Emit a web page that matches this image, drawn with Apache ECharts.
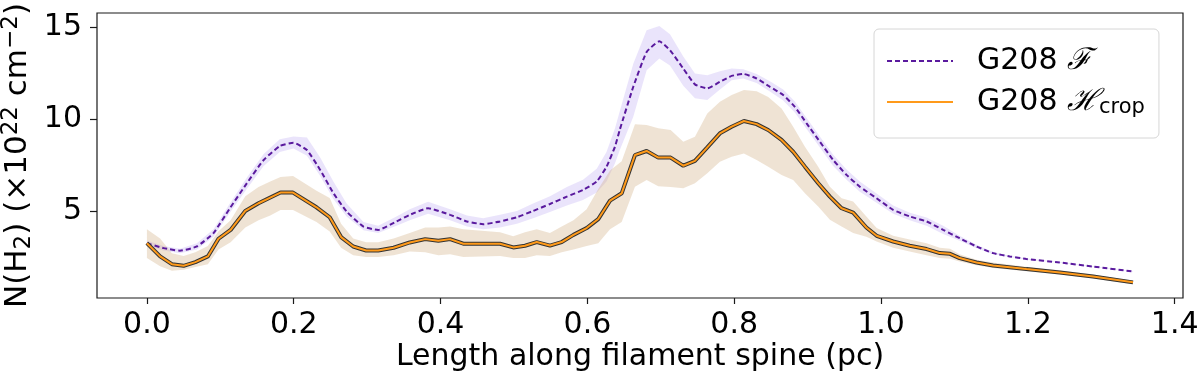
<!DOCTYPE html>
<html>
<head>
<meta charset="utf-8">
<script src="https://cdn.jsdelivr.net/npm/echarts@6/dist/echarts.min.js"></script>
<style>
    html, body { margin: 0; padding: 0; background: #fff; }
    #chart { width: 1200px; height: 381px; }
</style>
</head>
<body>
<div id="chart"></div>
<script>
// G208 F (dashed purple) — length along spine (pc) and N(H2)
const fX = [0, 0.0226, 0.045, 0.068, 0.0907, 0.113, 0.136, 0.159, 0.181, 0.1996, 0.218, 0.236, 0.254, 0.272, 0.295, 0.315, 0.34, 0.358, 0.383, 0.413, 0.436, 0.458, 0.481, 0.504, 0.526, 0.549, 0.572, 0.594, 0.6127, 0.626, 0.6376, 0.644, 0.6625, 0.6807, 0.698, 0.7125, 0.7306, 0.7465, 0.7633, 0.7805, 0.7965, 0.8123, 0.8305, 0.8486, 0.8667, 0.8826, 0.8986, 0.9167, 0.9348, 0.953, 0.9711, 0.9939, 1.0165, 1.0392, 1.062, 1.0846, 1.107, 1.13, 1.1526, 1.1753, 1.198, 1.2434, 1.2888, 1.3432];
const fY = [3.25, 2.98, 2.84, 3.07, 3.8, 5.15, 6.5, 7.77, 8.53, 8.71, 8.31, 7.23, 5.97, 4.97, 4.15, 3.97, 4.43, 4.79, 5.15, 4.79, 4.43, 4.28, 4.43, 4.66, 5.0, 5.38, 5.78, 6.14, 6.6, 7.4, 8.5, 9.4, 11.75, 13.64, 14.22, 13.74, 12.74, 11.88, 11.66, 12.02, 12.34, 12.45, 12.2, 11.75, 11.3, 10.66, 9.76, 8.76, 7.77, 6.96, 6.32, 5.69, 5.06, 4.7, 4.43, 3.97, 3.52, 3.07, 2.71, 2.53, 2.39, 2.2, 1.98, 1.71];
const fLo = [3.1, 2.85, 2.7, 2.9, 3.6, 4.9, 6.2, 7.45, 8.2, 8.4, 8.0, 6.9, 5.65, 4.7, 3.95, 3.8, 4.2, 4.5, 4.85, 4.5, 4.15, 4.0, 4.1, 4.3, 4.6, 4.95, 5.3, 5.6, 6.0, 6.6, 7.6, 8.3, 10.12, 12.65, 13.29, 12.9, 11.8, 11.12, 11.03, 11.6, 12.1, 12.2, 11.95, 11.5, 11.0, 10.35, 9.45, 8.45, 7.45, 6.7, 6.05, 5.45, 4.85, 4.5, 4.2, 3.75, 3.38, 2.97, 2.65, 2.5, 2.36, 2.18, 1.96, 1.7];
const fHi = [3.4, 3.1, 2.95, 3.25, 4.0, 5.4, 6.8, 8.1, 8.9, 9.05, 9.0, 7.9, 6.6, 5.4, 4.4, 4.2, 4.7, 5.1, 5.5, 5.1, 4.75, 4.6, 4.8, 5.0, 5.4, 5.8, 6.3, 6.7, 7.3, 8.2, 9.5, 10.4, 13.0, 14.82, 15.05, 14.6, 13.4, 12.47, 12.38, 12.6, 12.74, 12.7, 12.45, 12.05, 11.6, 10.95, 10.05, 9.05, 8.05, 7.25, 6.6, 5.95, 5.3, 4.9, 4.65, 4.2, 3.66, 3.17, 2.77, 2.56, 2.42, 2.22, 2.0, 1.72];

// G208 H_crop (orange) — same axes
const hX = [0, 0.018, 0.034, 0.05, 0.066, 0.083, 0.0975, 0.114, 0.134, 0.152, 0.168, 0.182, 0.199, 0.231, 0.249, 0.2645, 0.281, 0.2986, 0.315, 0.336, 0.358, 0.379, 0.397, 0.413, 0.431, 0.481, 0.499, 0.515, 0.531, 0.549, 0.565, 0.581, 0.599, 0.6148, 0.6308, 0.6467, 0.6648, 0.6807, 0.6965, 0.7134, 0.7306, 0.7465, 0.7633, 0.7805, 0.7965, 0.8132, 0.8305, 0.8463, 0.8645, 0.8803, 0.8963, 0.9144, 0.9303, 0.9462, 0.962, 0.98, 0.994, 1.0165, 1.039, 1.062, 1.08, 1.094, 1.107, 1.13, 1.1526, 1.198, 1.2434, 1.2888, 1.3432];
const hY = [3.25, 2.53, 2.11, 2.02, 2.22, 2.53, 3.49, 3.97, 5.0, 5.42, 5.73, 6.0, 6.0, 5.2, 4.66, 3.58, 3.07, 2.85, 2.85, 3.0, 3.29, 3.47, 3.38, 3.47, 3.22, 3.22, 3.02, 3.11, 3.31, 3.12, 3.31, 3.7, 4.07, 4.56, 5.56, 5.96, 8.04, 8.26, 7.9, 7.9, 7.46, 7.72, 8.46, 9.22, 9.58, 9.89, 9.72, 9.4, 8.86, 8.22, 7.41, 6.51, 5.78, 5.15, 4.91, 4.1, 3.65, 3.34, 3.11, 2.93, 2.71, 2.67, 2.44, 2.2, 2.04, 1.84, 1.66, 1.44, 1.12];
const hLo = [2.44, 2.0, 1.75, 1.8, 1.95, 2.1, 2.9, 3.3, 4.1, 4.5, 4.75, 5.05, 5.05, 4.4, 3.88, 3.0, 2.6, 2.5, 2.5, 2.6, 2.8, 2.75, 2.6, 2.65, 2.5, 2.55, 2.45, 2.45, 2.6, 2.55, 2.75, 2.9, 3.1, 3.25, 4.0, 4.4, 6.32, 6.69, 6.35, 6.3, 6.24, 6.5, 7.05, 7.68, 7.95, 8.13, 7.77, 7.41, 6.96, 6.69, 5.97, 5.24, 4.52, 4.15, 3.8, 3.6, 3.34, 3.0, 2.8, 2.6, 2.45, 2.4, 2.25, 2.05, 1.9, 1.72, 1.55, 1.33, 1.02];
const hHi = [4.0, 3.5, 2.7, 2.55, 2.75, 3.1, 3.9, 4.5, 5.8, 6.3, 6.6, 6.85, 6.9, 6.1, 5.7, 4.3, 3.5, 3.3, 3.3, 3.5, 3.8, 4.1, 4.1, 4.15, 4.0, 3.85, 3.62, 3.85, 4.0, 3.8, 4.15, 4.5, 5.1, 6.2, 7.2, 7.7, 9.72, 9.67, 9.5, 9.4, 8.76, 9.03, 10.3, 10.93, 11.3, 11.57, 11.51, 11.2, 10.57, 9.58, 8.49, 7.41, 6.32, 5.69, 5.51, 4.7, 4.07, 3.65, 3.45, 3.25, 3.0, 2.95, 2.65, 2.35, 2.2, 1.97, 1.78, 1.55, 1.2];

const xTicks = [0, 0.2, 0.4, 0.6, 0.8, 1.0, 1.2, 1.4];
const yTicks = [5, 10, 15];

const FONT = 'DejaVu Sans';

function pairs(xs, ys) {
    return xs.map((x, i) => [x, ys[i]]);
}

// shaded band between lo and hi, drawn through the grid's own scales
function bandSeries(xs, lo, hi, fill) {
    return {
        type: 'custom',
        silent: true,
        clip: true,
        z: 1,
        data: [[xs[0], lo[0]]],
        renderItem: function(params, api) {
            let pts = [];
            for (let i = 0; i < xs.length; i++) {
                pts.push(api.coord([xs[i], hi[i]]));
            }
            for (let i = xs.length - 1; i >= 0; i--) {
                pts.push(api.coord([xs[i], lo[i]]));
            }
            return {
                type: 'polygon',
                shape: {points: pts},
                style: {fill: fill}
            };
        }
    };
}

const chart = echarts.init(document.getElementById('chart'));
chart.setOption({
    animation: false,
    backgroundColor: '#fff',
    grid: {
        left: 97,
        right: 17,
        top: 13,
        bottom: 83,
        outerBoundsMode: 'none',
        containLabel: false,
        show: true,
        borderColor: '#1a1a1a',
        borderWidth: 1.2
    },
    legend: {
        orient: 'vertical',
        left: 874,
        top: 29,
        padding: [17, 14, 20, 12],
        itemGap: 11,
        itemWidth: 66,
        itemHeight: 14,
        backgroundColor: 'rgba(255,255,255,0.85)',
        borderColor: '#d6d6d6',
        borderWidth: 1,
        borderRadius: 5,
        itemStyle: {opacity: 0},
        data: ['G208 F', 'G208 Hcrop'],
        formatter: function(name) {
            if (name === 'G208 F') return '{a|G208 }{s|ℱ}';
            return '{a|G208 }{s|ℋ}{b|crop}';
        },
        textStyle: {
            padding: [0, 0, 0, 19],
            rich: {
                a: {fontFamily: FONT, fontSize: 30, lineHeight: 32, color: '#000'},
                s: {fontFamily: 'DejaVu Serif', fontStyle: 'italic', fontSize: 30, lineHeight: 32, color: '#000'},
                b: {fontFamily: FONT, fontSize: 21, lineHeight: 24, verticalAlign: 'bottom', color: '#000'}
            }
        }
    },
    xAxis: {
        type: 'value',
        min: -0.068,
        max: 1.4113,
        name: 'Length along filament spine (pc)',
        nameLocation: 'middle',
        nameGap: 44,
        nameMoveOverlap: false,
        nameTextStyle: {fontFamily: FONT, fontSize: 30, color: '#000'},
        axisLine: {show: false, onZero: false},
        splitLine: {show: false},
        axisTick: {
            show: true,
            length: 6,
            customValues: xTicks,
            lineStyle: {color: '#1a1a1a', width: 1.2}
        },
        axisLabel: {
            customValues: xTicks,
            formatter: v => v.toFixed(1),
            fontFamily: FONT,
            fontSize: 30,
            color: '#000',
            margin: 12
        }
    },
    yAxis: {
        type: 'value',
        min: 0.27,
        max: 15.76,
        name: '{n|N(H}{sub|2}{n|) (×10}{sup|22}{n| cm}{sup|−2}{n|)}',
        nameLocation: 'middle',
        nameRotate: 90,
        nameGap: 61,
        nameMoveOverlap: false,
        nameTextStyle: {
            fontFamily: FONT,
            fontSize: 31,
            color: '#000',
            rich: {
                n: {fontFamily: FONT, fontSize: 31, lineHeight: 36, color: '#000'},
                sub: {fontFamily: FONT, fontSize: 23, lineHeight: 27, verticalAlign: 'bottom', color: '#000'},
                sup: {fontFamily: FONT, fontSize: 23, lineHeight: 27, verticalAlign: 'top', color: '#000'}
            }
        },
        axisLine: {show: false, onZero: false},
        splitLine: {show: false},
        axisTick: {
            show: true,
            length: 7,
            customValues: yTicks,
            lineStyle: {color: '#1a1a1a', width: 1.2}
        },
        axisLabel: {
            customValues: yTicks,
            fontFamily: FONT,
            fontSize: 30,
            color: '#000',
            margin: 15
        }
    },
    series: [
        bandSeries(fX, fLo, fHi, 'rgba(150,120,235,0.2)'),
        bandSeries(hX, hLo, hHi, 'rgba(205,170,125,0.33)'),
        {
            name: 'G208 F',
            type: 'line',
            z: 3,
            data: pairs(fX, fY),
            showSymbol: false,
            symbol: 'none',
            smooth: 0.15,
            lineStyle: {color: '#5a1a9e', width: 2, type: [5, 3]},
            itemStyle: {color: '#5a1a9e'}
        },
        {
            // dark edge beneath the orange line
            name: 'edge',
            type: 'line',
            z: 4,
            data: pairs(hX, hY),
            showSymbol: false,
            symbol: 'none',
            lineStyle: {color: '#333', width: 4}
        },
        {
            name: 'G208 Hcrop',
            type: 'line',
            z: 5,
            data: pairs(hX, hY),
            showSymbol: false,
            symbol: 'none',
            lineStyle: {color: '#ff9a1a', width: 2},
            itemStyle: {color: '#ff9a1a'}
        }
    ]
});
</script>
</body>
</html>
